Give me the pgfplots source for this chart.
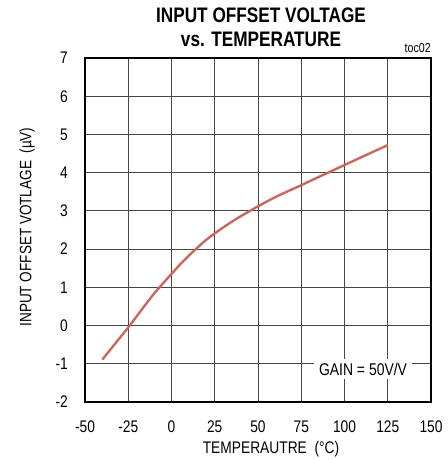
\documentclass[border=0pt]{standalone}
\usepackage{pgfplots}
\pgfplotsset{compat=1.18}
\usepackage{fontspec}
\setmainfont{Liberation Sans}[FakeStretch=0.82]
\definecolor{curvered}{RGB}{214,96,86}
\definecolor{gridgray}{RGB}{70,70,70}
\begin{document}
\begin{tikzpicture}
\begin{axis}[
    scale only axis,
    width=346pt, height=344pt,
    xmin=-50, xmax=150, ymin=-2, ymax=7,
    xtick={-50,-25,...,150},
    ytick={-2,-1,...,7},
    grid=major,
    grid style={gridgray, line width=0.8pt},
    axis line style={black, line width=2.6pt},
    tick style={draw=none},
    /pgf/number format/assume math mode=true,
    ticklabel style={font=\fontsize{16.8}{19}\selectfont, inner sep=0pt},
    xticklabel style={anchor=base, yshift=-30pt},
    yticklabel style={anchor=east, xshift=-17pt},
    clip=false,
]
\addplot[curvered, line width=2.3pt, smooth] coordinates {
    (-40,-0.89) (-35,-0.61) (-30,-0.33) (-25,-0.05) (-20,0.25) (-15,0.55)
    (-10,0.84) (-5,1.10) (0,1.35) (5,1.60) (10,1.83) (15,2.04) (20,2.24)
    (25,2.41) (30,2.57) (35,2.72) (40,2.86) (45,2.99) (50,3.12) (60,3.36)
    (70,3.57) (75,3.67) (80,3.78) (90,3.99) (100,4.20) (110,4.41) (125,4.72)
};
\node[fill=white, inner xsep=5pt, inner ysep=4pt, font=\fontsize{17}{19}\selectfont]
    at (axis cs:110.7,-1.14) {GAIN = 50V/V};
\coordinate (sw) at (rel axis cs:0,0);
\coordinate (ne) at (rel axis cs:1,1);
\end{axis}
\node[anchor=base, font=\bfseries\fontsize{21}{24}\selectfont, inner sep=0pt]
    at ([yshift=35pt]sw |- ne) [xshift=176pt] {INPUT OFFSET VOLTAGE};
\node[anchor=base, font=\bfseries\fontsize{21}{24}\selectfont, inner sep=0pt]
    at ([yshift=11pt]sw |- ne) [xshift=176pt] {vs. TEMPERATURE};
\node[anchor=base east, font=\fontsize{13}{15}\selectfont, inner sep=0pt]
    at ([yshift=5pt]ne) {toc02};
\node[anchor=base, font=\fontsize{16.8}{19}\selectfont, inner sep=0pt]
    at ([xshift=186pt, yshift=-51pt]sw) {TEMPERAUTRE \ (°C)};
\node[anchor=center, rotate=90, font=\fontsize{16.5}{19}\selectfont, inner sep=0pt]
    at ([xshift=-58pt, yshift=175pt]sw) {INPUT OFFSET VOTLAGE \ (µV)};
\pgfresetboundingbox
\path ([shift={(-85pt,-58pt)}]sw) rectangle ([shift={(16pt,58pt)}]ne);
\end{tikzpicture}
\end{document}
